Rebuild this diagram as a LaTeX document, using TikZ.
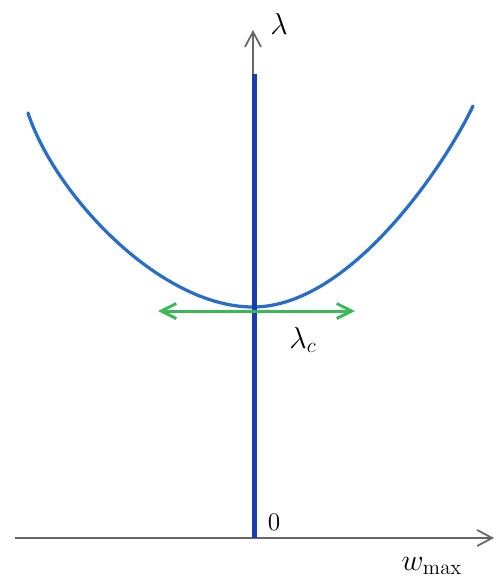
\documentclass[tikz,border=0pt]{standalone}
\usepackage{amsmath,amssymb}
\usepackage{xcolor}
\usepackage{tikz}
\usetikzlibrary{
    arrows.meta,
    positioning,
    calc
}
\definecolor{penblue}{RGB}{25,60,175}
\definecolor{curveblue}{RGB}{40,110,200}
\definecolor{pengreen}{RGB}{60,185,85}
\tikzset{
    axis/.style={
        draw=black!60,
        line width=0.35mm,
        -{Straight Barb[length=3mm,width=3.2mm]}
    }
}
\tikzset{
    stem/.style={
        draw=penblue,
        line width=1mm
    }
}
\tikzset{
    valley/.style={
        draw=curveblue,
        line width=0.65mm,
        line cap=round
    }
}
\tikzset{
    sidearrow/.style={
        draw=pengreen,
        line width=0.6mm,
        {Straight Barb[length=3mm,width=3mm]}-{Straight Barb[length=3mm,width=3mm]}
    }
}
\tikzset{
    handlabel/.style={
        font=\LARGE,
        inner sep=1pt
    }
}

\begin{document}
\begin{tikzpicture}[
    x=0.2mm,
    y=-0.2mm
]
\useasboundingbox (0,0) rectangle (499,579);

\coordinate (left) at (15,538);
\coordinate (right) at (494,538);
\coordinate (origin) at (253,538);
\coordinate (top) at (253,30);
\coordinate (stemtop) at (254,74);
\coordinate (stembottom) at (254,538);
\coordinate (valleyleft) at (28,113);
\coordinate (valleymin) at (253,307);
\coordinate (valleyright) at (473,106);
\coordinate (sideleft) at (158,311);
\coordinate (sideright) at (355,311);

\draw[axis] (left) -- (right);
\draw[axis] (origin) -- (top);

% the lambda curve
\draw[valley] (valleyleft)
    .. controls (55,195) and (160,307) .. (valleymin)
    .. controls (350,307) and (445,165) .. (valleyright);
\draw[stem] (stembottom) -- (stemtop);
\draw[sidearrow] (sideleft) -- (sideright);

\node[handlabel] (lambda) at (279,24) {$\lambda$};
\node[handlabel] (lambdac) at (303,340) {$\lambda_c$};
\node[font=\Large] (zero) at (274,522) {$0$};
\node[handlabel] (wmax) at (432,566) {$w_{\max}$};

\end{tikzpicture}
\end{document}
